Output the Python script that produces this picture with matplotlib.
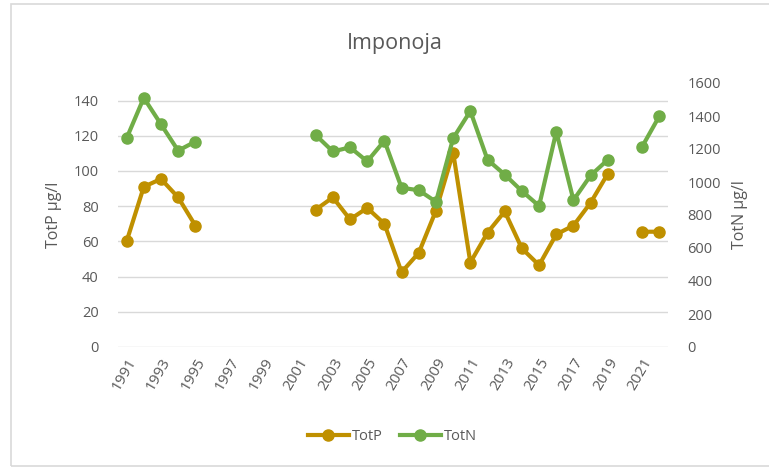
import numpy as np
import matplotlib
matplotlib.use("Agg")
import matplotlib.pyplot as plt
from matplotlib.patches import Rectangle

# yearly totals, nan where no sample was taken
years = list(range(1991, 2023))
nan = np.nan
totp = [60, 91, 95.5, 85, 69, nan, nan, nan, nan, nan, nan,
        78, 85, 72.5, 79, 70, 42.5, 53.5, 77.5, 110.5, 48,
        65, 77, 56, 46.5, 64, 69, 82, 98.5, nan, 65.5, 65.5]
totn = [1265, 1510, 1350, 1190, 1245, nan, nan, nan, nan, nan, nan,
        1285, 1185, 1210, 1125, 1250, 965, 950, 880, 1265, 1430,
        1135, 1045, 945, 855, 1305, 890, 1040, 1135, nan, 1215, 1400]
tick_years = [str(y) for y in range(1991, 2022, 2)]

gold = "#BF9000"
green = "#70AD47"
txt = "#595959"
grid = "#D9D9D9"

plt.rcParams["font.family"] = ["Open Sans", "DejaVu Sans"]

fig = plt.figure(figsize=(7.69, 4.67), dpi=100)
fig.patches.append(Rectangle((11 / 769, 0.003), 1.0, 1 - 4 / 467 - 0.003,
                             transform=fig.transFigure, fill=False,
                             edgecolor="#D9D9D9", linewidth=1.2))

ax = fig.add_axes([118 / 769, 1 - 347 / 467, 550 / 769, 264 / 467])
ax2 = ax.twinx()

x = np.arange(len(years))
lp, = ax.plot(x, totp, color=gold, lw=3, marker="o", ms=8, label="TotP")
ln, = ax2.plot(x, totn, color=green, lw=3, marker="o", ms=8, label="TotN")

ax.set_xlim(-0.5, len(years) - 0.5)
ax.set_ylim(0, 150)
ax.set_yticks(range(0, 141, 20))
ax2.set_ylim(0, 1600)
ax2.set_yticks(range(0, 1601, 200))
for t in range(0, 141, 20):
    ax.axhline(t, color=grid, lw=1, zorder=0)

ax.set_xticks(x[::2])
ax.set_xticklabels(tick_years, rotation=60, ha="right", va="top",
                   rotation_mode="anchor")

for a in (ax, ax2):
    for s in a.spines.values():
        s.set_visible(False)
    a.tick_params(length=0, colors=txt, labelsize=10.5)
ax.tick_params(axis="x", pad=6, labelsize=11)
ax.tick_params(axis="y", pad=14)
ax2.tick_params(axis="y", pad=14)

ax.set_ylabel("TotP µg/l", color=txt, fontsize=11.5, labelpad=8)
ax2.set_ylabel("TotN µg/l", color=txt, fontsize=11.5, labelpad=8)

fig.text(0.514, 1 - 43 / 467, "Imponoja", ha="center", va="center",
         color=txt, fontsize=15.5)

fig.legend(handles=[lp, ln], loc="center", bbox_to_anchor=(0.51, 1 - 437 / 467),
           ncol=2, frameon=False, fontsize=10.5, labelcolor=txt,
           handlelength=2.8, handletextpad=0.2, columnspacing=1.2)

fig.savefig("out.png", dpi=100)
